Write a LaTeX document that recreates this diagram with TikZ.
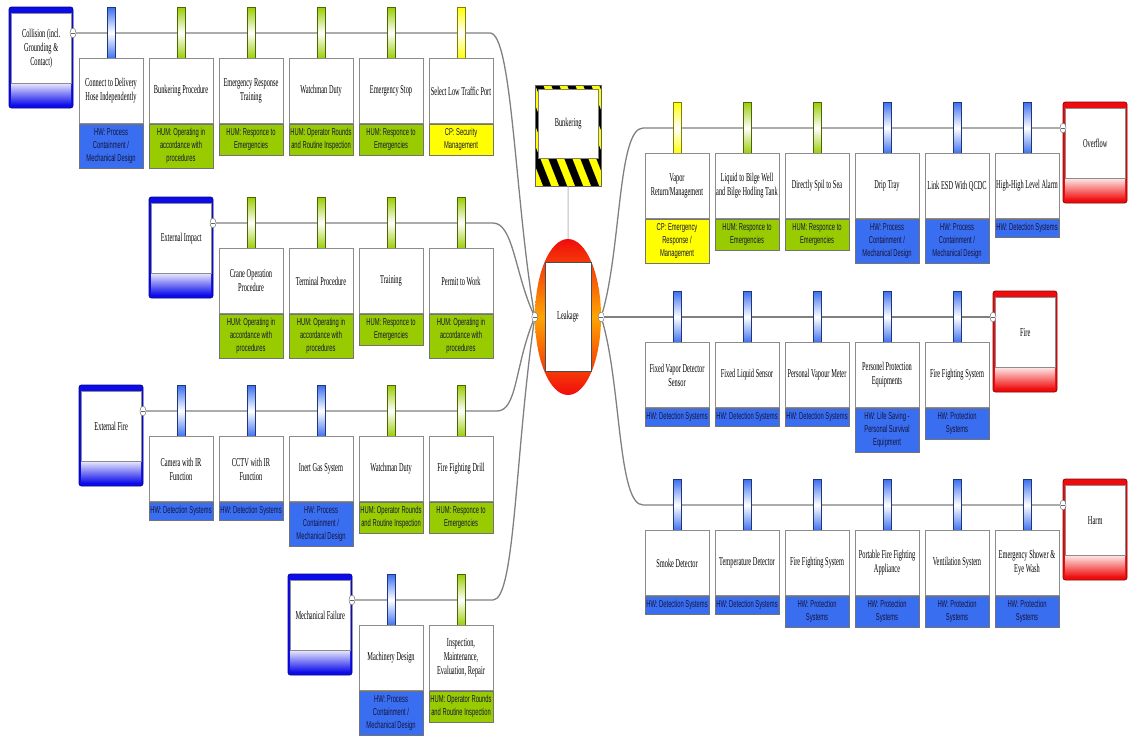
\documentclass[tikz,border=0pt]{standalone}
\usepackage{fontspec}
\usetikzlibrary{shapes.geometric}
\newfontfamily\boxfont[FakeStretch=0.53]{Liberation Serif}
\newfontfamily\catfont[FakeStretch=0.58]{Liberation Sans}
\newcommand\boxtext{\boxfont\fontsize{12}{14}\selectfont}
\newcommand\cattext{\catfont\fontsize{10}{13}\selectfont}
\AtBeginDocument{%
  {\boxtext\fontdimen2\font=1.7pt\fontdimen3\font=0.4pt\fontdimen4\font=0.3pt}%
  {\cattext\fontdimen2\font=1.7pt\fontdimen3\font=0.4pt\fontdimen4\font=0.3pt}}
\definecolor{hwblue}{RGB}{58,110,240}
\definecolor{humgreen}{RGB}{153,204,0}
\definecolor{cpyellow}{RGB}{255,255,0}
\definecolor{threatblue}{RGB}{12,12,235}
\definecolor{consred}{RGB}{240,12,12}
\definecolor{leakorange}{RGB}{255,165,0}
\definecolor{linegray}{RGB}{128,128,128}
\definecolor{catink}{RGB}{20,20,60}

\begin{document}
\begin{tikzpicture}[x=1pt, y=-1pt,
  conn/.style={draw=linegray, line width=1.3pt},
  hazline/.style={draw=black!25, line width=1pt},
  port/.style={ellipse, draw=black!60, fill=white, minimum width=6pt, minimum height=10pt, inner sep=0pt, line width=0.4pt,
    path picture={\draw[line width=0.5pt] ([xshift=1.2pt]path picture bounding box.west) -- ([xshift=-1.2pt]path picture bounding box.east);}},
  bbox/.style={font=\boxtext, draw=black!45, fill=white, minimum width=64pt, minimum height=65pt, text width=64pt, inner xsep=0pt, align=flush center},
  cat/.style={anchor=north, draw=black!55, line width=0.4pt, text width=64pt, inner xsep=0pt, inner ysep=4.5pt, align=flush center,
    text=catink, font=\cattext},
  evbox/.style={font=\boxtext, draw=black!45, fill=white, minimum width=60pt, minimum height=70pt, text width=56pt, inner sep=0pt, align=flush center}]
  \useasboundingbox (0,0) rectangle (1131,737);

  \def\event#1#2#3#4#5{%
    \fill[#4, draw=#4!55!black, line width=0.8pt, rounded corners=2.5pt] (#2,#3) rectangle (#2+64,#3+101);
    \shade[top color=#4!8, bottom color=#4] (#2+2,#3+76) rectangle (#2+62,#3+98);
    \node[evbox, anchor=north west] (#1) at (#2+2,#3+6) {#5};}
  \def\barrier#1#2#3#4#5#6{%
    \shade[top color=#4, bottom color=#4, middle color=white, draw=#4!50!black, line width=0.3pt] (#2-4,#3-26) rectangle (#2+4,#3+26);
    \node[bbox] (#1) at (#2,#3+58) {#5};
    \node[cat, fill=#4] (#1c) at (#1.south) {#6};}

  \event{t1}{9}{7}{threatblue}{Collision (incl.\\ Grounding \&\\ Contact)}
  \event{t2}{149}{197}{threatblue}{External Impact}
  \event{t3}{79}{385}{threatblue}{External Fire}
  \event{t4}{288}{574}{threatblue}{Mechanical Failure}
  \event{c1}{1063}{102}{consred}{Overflow}
  \event{c2}{993}{291}{consred}{Fire}
  \event{c3}{1063}{479}{consred}{Harm}

  \node[port] (t1p) at (73,33) {};
  \node[port] (t2p) at (213,223) {};
  \node[port] (t3p) at (143,411) {};
  \node[port] (t4p) at (352,600) {};
  \node[port] (c1p) at (1063,128) {};
  \node[port] (c2p) at (993,317) {};
  \node[port] (c3p) at (1063,505) {};

  \node[ellipse, minimum width=66pt, minimum height=156pt, inner sep=0pt,
    top color=consred, bottom color=consred, middle color=leakorange] (leak) at (568,317) {};
  \node[font=\boxtext, draw=black!70, fill=white, minimum width=46pt, minimum height=109pt, inner sep=0pt] (leakbox) at (leak.center) {Leakage};
  \node[port] (leakL) at (leak.west) {};
  \node[port] (leakR) at (leak.east) {};

  \node[draw=black!60, fill=cpyellow, minimum width=66pt, minimum height=101pt, inner sep=0pt, anchor=north west,
    path picture={\foreach \s in {-64,-48,...,64}
      \fill[black] ([xshift=\s pt]path picture bounding box.north west) -- ++(8pt,0pt) -- ++(40pt,-101pt) -- ++(-8pt,0pt) -- cycle;}]
    (hazard) at (535,85) {};
  \node[font=\boxtext, draw=black!50, fill=white, minimum width=60pt, minimum height=69pt, inner sep=0pt, anchor=north west] (bunk) at (538,89) {Bunkering};
  \draw[hazline] (hazard) -- (leak);

  \coordinate (j1) at (490,33);
  \coordinate (j2) at (493,223);
  \coordinate (j3) at (497,411);
  \coordinate (j4) at (493,600);
  \coordinate (k1) at (643,128);
  \coordinate (k3) at (643,505);
  \draw[conn] (t1p) -- (j1) .. controls +(22,0) and +(-20,-120) .. (leakL);
  \draw[conn] (t2p) -- (j2) .. controls +(20,0) and +(-20,-45) .. (leakL);
  \draw[conn] (t3p) -- (j3) .. controls +(20,0) and +(-20,50) .. (leakL);
  \draw[conn] (t4p) -- (j4) .. controls +(22,0) and +(-20,140) .. (leakL);
  \draw[conn] (leakR) .. controls +(20,-70) and +(-25,0) .. (k1) -- (c1p);
  \draw[conn] (leakR) -- (c2p);
  \draw[conn] (leakR) .. controls +(20,70) and +(-25,0) .. (k3) -- (c3p);

  \barrier{b11}{111}{33}{hwblue}{Connect to Delivery\\Hose Independently}{HW: Process\\Containment /\\Mechanical Design}
  \barrier{b12}{181}{33}{humgreen}{Bunkering Procedure}{HUM: Operating in\\accordance with\\procedures}
  \barrier{b13}{251}{33}{humgreen}{Emergency Response\\Training}{HUM: Responce to\\Emergencies}
  \barrier{b14}{321}{33}{humgreen}{Watchman Duty}{HUM: Operator Rounds\\and Routine Inspection}
  \barrier{b15}{391}{33}{humgreen}{Emergency Stop}{HUM: Responce to\\Emergencies}
  \barrier{b16}{461}{33}{cpyellow}{Select Low Traffic Port}{CP: Security\\Management}

  \barrier{b21}{251}{223}{humgreen}{Crane Operation\\Procedure}{HUM: Operating in\\accordance with\\procedures}
  \barrier{b22}{321}{223}{humgreen}{Terminal Procedure}{HUM: Operating in\\accordance with\\procedures}
  \barrier{b23}{391}{223}{humgreen}{Training}{HUM: Responce to\\Emergencies}
  \barrier{b24}{461}{223}{humgreen}{Permit to Work}{HUM: Operating in\\accordance with\\procedures}

  \barrier{b31}{181}{411}{hwblue}{Camera with IR\\Function}{HW: Detection Systems}
  \barrier{b32}{251}{411}{hwblue}{CCTV with IR\\Function}{HW: Detection Systems}
  \barrier{b33}{321}{411}{hwblue}{Inert Gas System}{HW: Process\\Containment /\\Mechanical Design}
  \barrier{b34}{391}{411}{humgreen}{Watchman Duty}{HUM: Operator Rounds\\and Routine Inspection}
  \barrier{b35}{461}{411}{humgreen}{Fire Fighting Drill}{HUM: Responce to\\Emergencies}

  \barrier{b41}{391}{600}{hwblue}{Machinery Design}{HW: Process\\Containment /\\Mechanical Design}
  \barrier{b42}{461}{600}{humgreen}{Inspection,\\Maintenance,\\Evaluation, Repair}{HUM: Operator Rounds\\and Routine Inspection}

  \barrier{r11}{677}{128}{cpyellow}{Vapor\\Return/Management}{CP: Emergency\\Response /\\Management}
  \barrier{r12}{747}{128}{humgreen}{Liquid to Bilge Well\\and Bilge Hodling Tank}{HUM: Responce to\\Emergencies}
  \barrier{r13}{817}{128}{humgreen}{Directly Spil to Sea}{HUM: Responce to\\Emergencies}
  \barrier{r14}{887}{128}{hwblue}{Drip Tray}{HW: Process\\Containment /\\Mechanical Design}
  \barrier{r15}{957}{128}{hwblue}{Link ESD With QCDC}{HW: Process\\Containment /\\Mechanical Design}
  \barrier{r16}{1027}{128}{hwblue}{High-High Level Alarm}{HW: Detection Systems}

  \barrier{r21}{677}{317}{hwblue}{Fixed Vapor Detector\\Sensor}{HW: Detection Systems}
  \barrier{r22}{747}{317}{hwblue}{Fixed Liquid Sensor}{HW: Detection Systems}
  \barrier{r23}{817}{317}{hwblue}{Personal Vapour Meter}{HW: Detection Systems}
  \barrier{r24}{887}{317}{hwblue}{Personel Protection\\Equipments}{HW: Life Saving -\\Personal Survival\\Equipment}
  \barrier{r25}{957}{317}{hwblue}{Fire Fighting System}{HW: Protection\\Systems}

  \barrier{r31}{677}{505}{hwblue}{Smoke Detector}{HW: Detection Systems}
  \barrier{r32}{747}{505}{hwblue}{Temperature Detector}{HW: Detection Systems}
  \barrier{r33}{817}{505}{hwblue}{Fire Fighting System}{HW: Protection\\Systems}
  \barrier{r34}{887}{505}{hwblue}{Portable Fire Fighting\\Appliance}{HW: Protection\\Systems}
  \barrier{r35}{957}{505}{hwblue}{Ventilation System}{HW: Protection\\Systems}
  \barrier{r36}{1027}{505}{hwblue}{Emergency Shower \&\\Eye Wash}{HW: Protection\\Systems}
\end{tikzpicture}
\end{document}
